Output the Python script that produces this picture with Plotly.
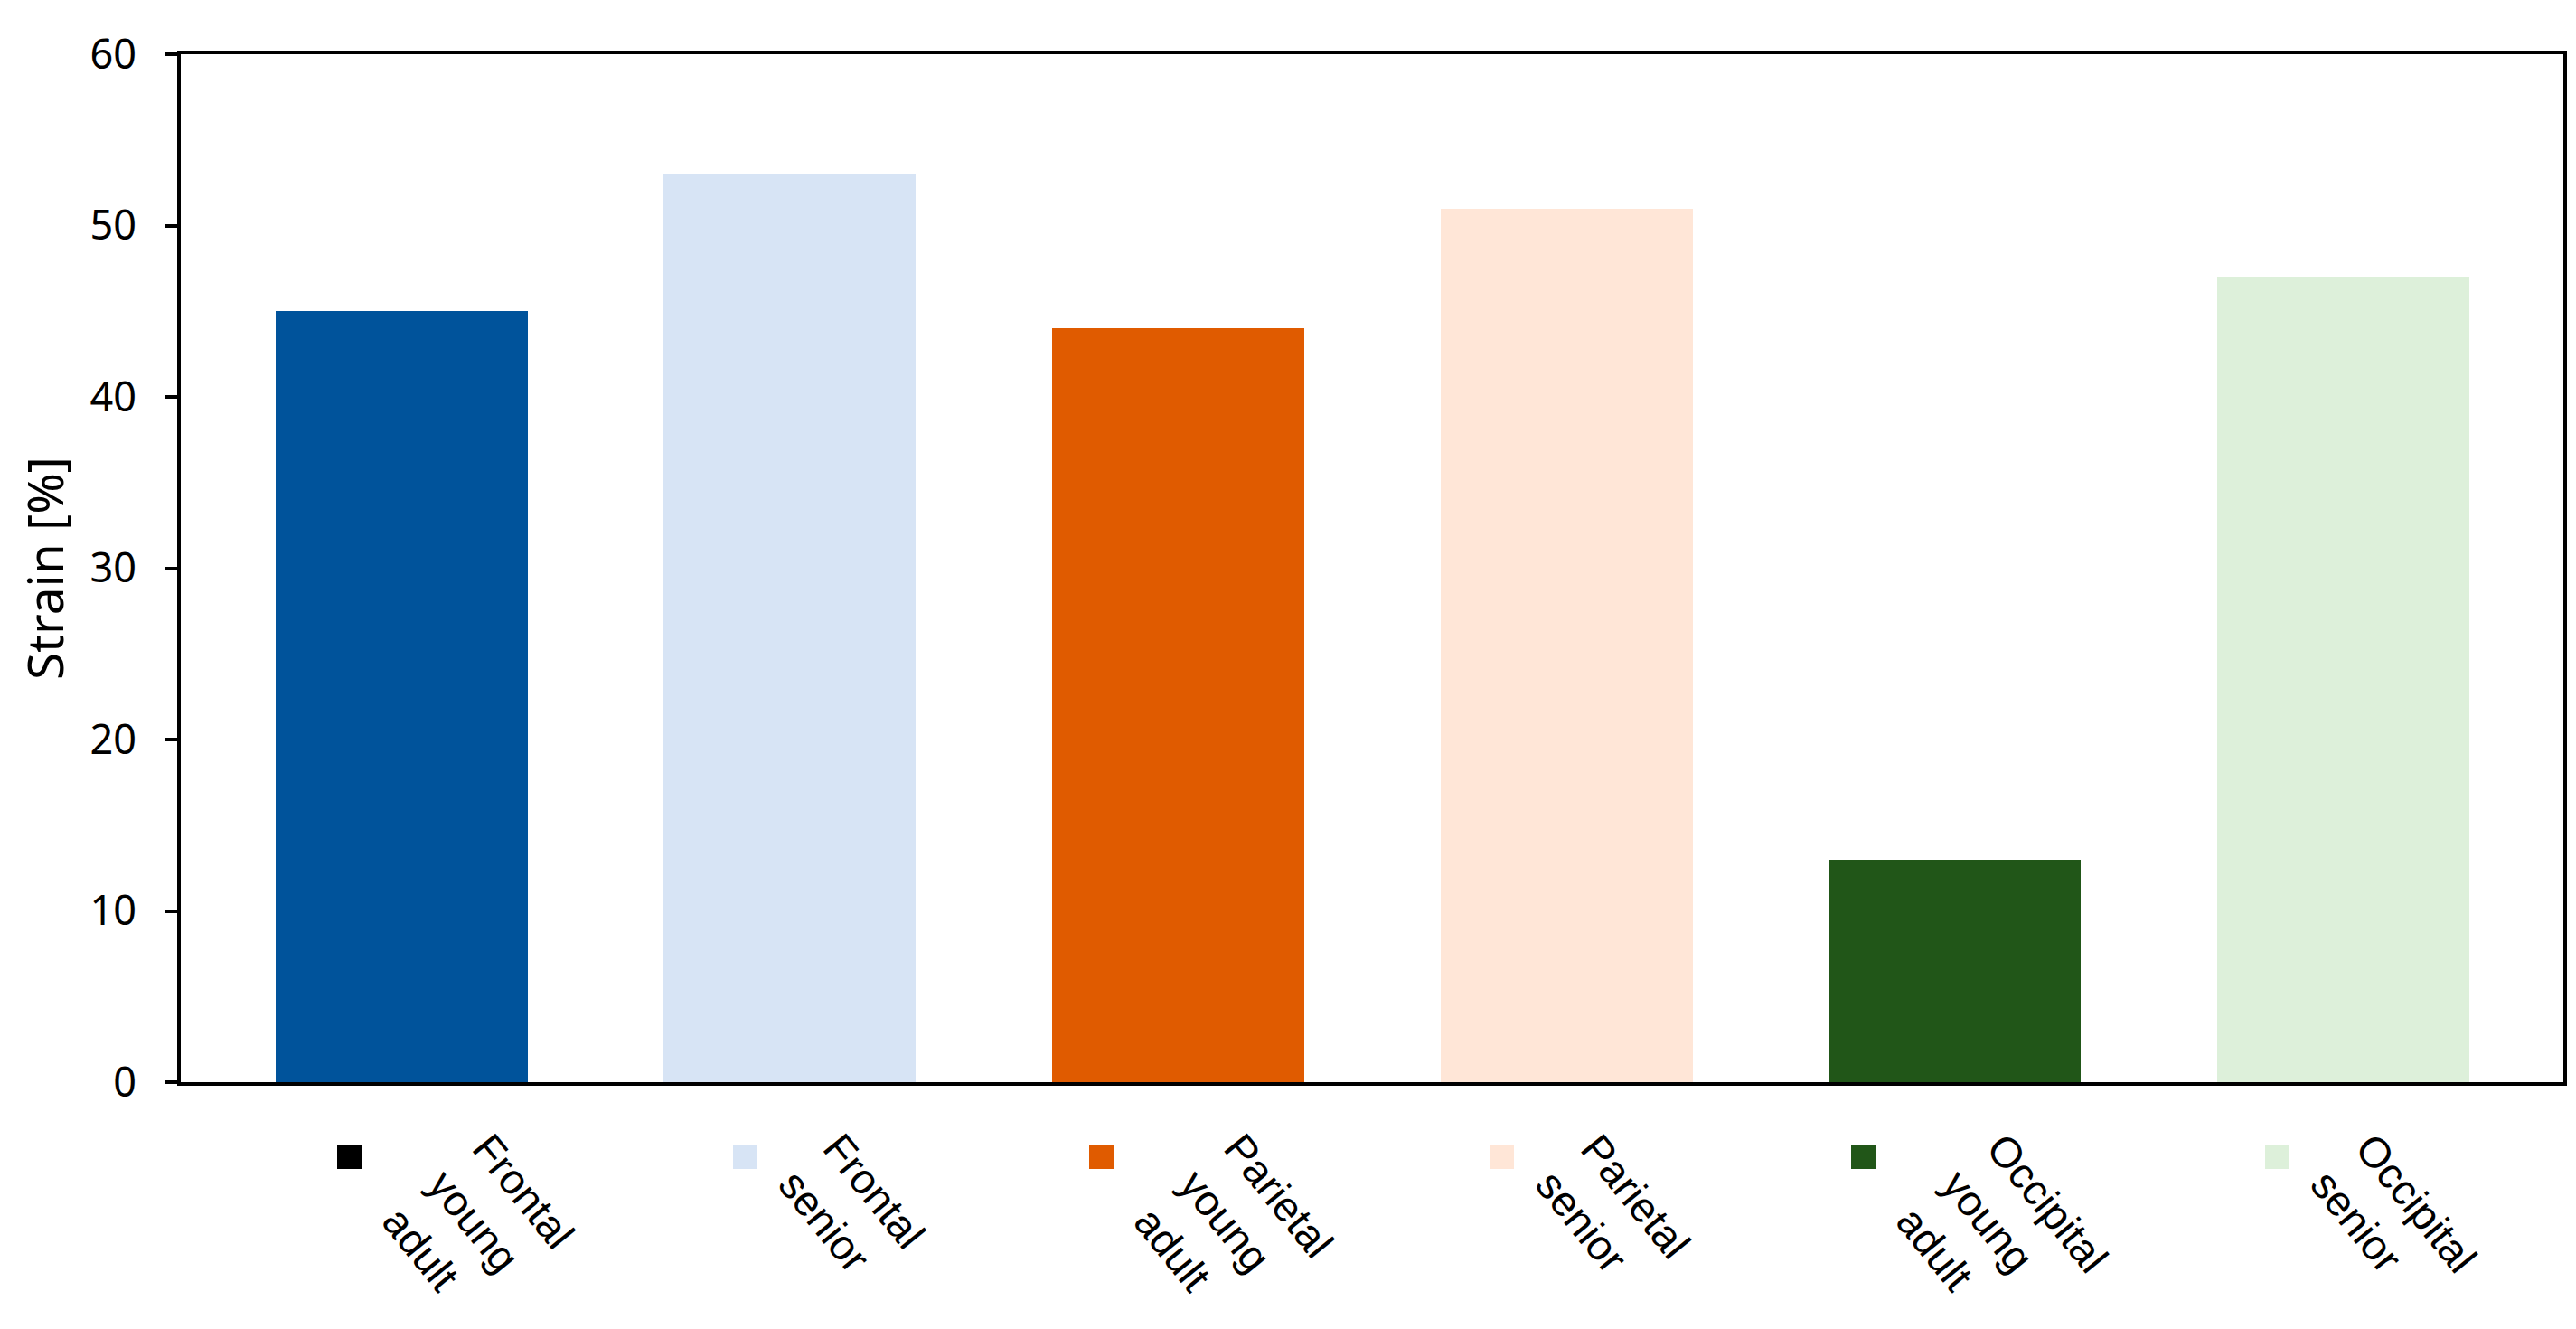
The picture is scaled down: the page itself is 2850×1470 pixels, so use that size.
import math
import plotly.graph_objects as go

# ---- data ----
categories = ["Frontal young adult", "Frontal senior", "Parietal young adult",
              "Parietal senior", "Occipital young adult", "Occipital senior"]
label_lines = [["Frontal", "young", "adult"], ["Frontal", "senior"],
               ["Parietal", "young", "adult"], ["Parietal", "senior"],
               ["Occipital", "young", "adult"], ["Occipital", "senior"]]
strain = [45, 53, 44, 51, 13, 47]
y_ticks = [0, 10, 20, 30, 40, 50, 60]

# ---- style ----
bar_colors = ["#00539B", "#D7E4F5", "#E05B00", "#FFE6D7", "#215618", "#DDF0DA"]
key_colors = ["#000000", "#D7E4F5", "#E05B00", "#FFE6D7", "#215618", "#DDF0DA"]
key_dx = [-0.134, -0.115, -0.199, -0.166, -0.236, -0.171]   # legend key offsets (category units)
key_row = -0.0725                                           # legend row (paper units, below plot)
label_angle = 51
label_font = dict(family="Liberation Sans", size=47, color="black")
line_gap = 64          # px between rotated text lines
block_dx, block_dy = 24, 38

x_pos = list(range(len(categories)))
key_x = [i + d for i, d in zip(x_pos, key_dx)]

fig = go.Figure()
fig.add_trace(go.Bar(x=x_pos, y=strain, width=0.649, marker=dict(color=bar_colors, line=dict(width=0)),
                     hovertext=categories, showlegend=False))

s_a = math.sin(math.radians(label_angle))
c_a = math.cos(math.radians(label_angle))
for kx, lines, col in zip(key_x, label_lines, key_colors):
    # legend key square
    fig.add_annotation(x=kx, y=key_row, xref="x", yref="paper", text=" ", showarrow=False,
                       xanchor="center", yanchor="middle", width=27, height=27,
                       bgcolor=col, borderpad=0, borderwidth=0, font=dict(size=2))
    # rotated label, one annotation per line
    n = len(lines)
    for k, line in enumerate(lines):
        fig.add_annotation(x=kx, y=key_row, xref="x", yref="paper", text=line, showarrow=False,
                           xanchor="left", yanchor="top",
                           xshift=block_dx + (n - 1 - k) * line_gap * s_a,
                           yshift=block_dy - k * line_gap * c_a,
                           textangle=label_angle, font=label_font)

fig.update_layout(
    width=2850, height=1470,
    margin=dict(l=192, r=22, t=52, b=281),
    plot_bgcolor="white", paper_bgcolor="white",
    bargap=0,
)
fig.update_xaxes(range=[-0.568, 5.566], showticklabels=False, ticks="", showgrid=False,
                 zeroline=False, showline=True, linecolor="black", linewidth=4, mirror=True)
fig.update_yaxes(range=[0, 60], tickvals=y_ticks, ticks="outside", ticklen=13, tickwidth=4,
                 tickcolor="black", showgrid=False, zeroline=False, showline=True,
                 linecolor="black", linewidth=4, mirror=True, ticklabelstandoff=23,
                 tickfont=dict(family="Noto Sans", size=45, color="black"),
                 title=dict(text="Strain [%]", standoff=12,
                            font=dict(family="Noto Sans", size=55, color="black")))

fig.write_html("out.html")
